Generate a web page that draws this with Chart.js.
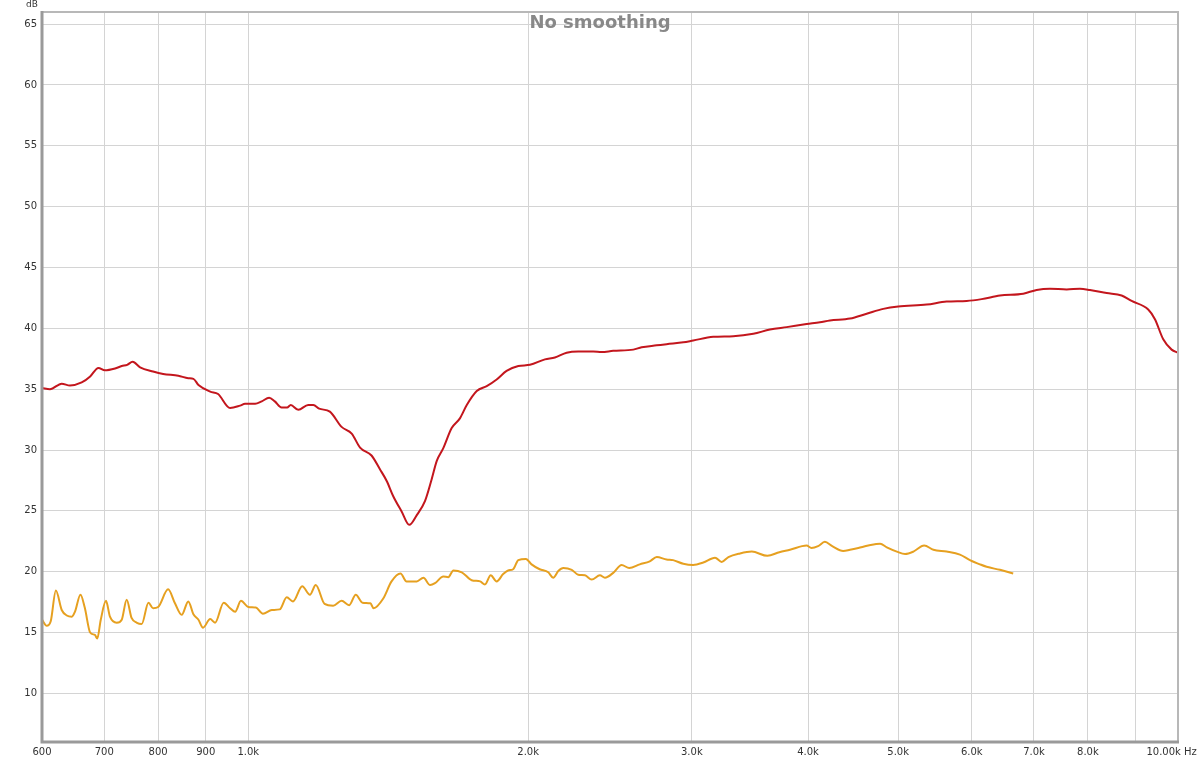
<!DOCTYPE html>
<html>
<head>
<meta charset="utf-8">
<title>No smoothing</title>
<script src="https://cdn.jsdelivr.net/npm/chart.js@4/dist/chart.umd.min.js"></script>
<style>
    html, body { margin: 0; padding: 0; background: #fff; }
    #wrap { width: 1200px; height: 760px; }
</style>
</head>
<body>
<div id="wrap"><canvas id="freqChart" width="1200" height="760"></canvas></div>
<script>
const redFreq = [600, 612, 630, 643, 662, 676, 690, 701, 719, 731, 741, 751, 765, 790, 810, 841, 862, 873, 884, 910,
    928, 956, 980, 992, 1017, 1034, 1053, 1068, 1086, 1101, 1111, 1132, 1160, 1175, 1192, 1224, 1260, 1292, 1319, 1357,
    1386, 1409, 1432, 1462, 1490, 1518, 1549, 1575, 1595, 1621, 1655, 1689, 1718, 1761, 1805, 1850, 1896, 1952, 2009, 2085,
    2137, 2200, 2264, 2350, 2399, 2469, 2595, 2649, 2750, 2818, 2937, 3010, 3163, 3324, 3493, 3640, 3794, 3986, 4120, 4223,
    4438, 4625, 4819, 5001, 5366, 5638, 5925, 6149, 6434, 6816, 7046, 7282, 7590, 7844, 8041, 8380, 8697, 8915, 9289, 9445,
    9641, 9843, 10000];
const redDb = [35.1, 35.0, 35.45, 35.3, 35.55, 36.05, 36.75, 36.55, 36.7, 36.9, 37.0, 37.25, 36.8, 36.45, 36.25, 36.1, 35.9, 35.85, 35.35, 34.8,
    34.6, 33.45, 33.65, 33.8, 33.8, 34.0, 34.3, 34.0, 33.5, 33.5, 33.7, 33.3, 33.7, 33.7, 33.4, 33.15, 31.9, 31.35, 30.2, 29.55,
    28.4, 27.45, 26.2, 24.95, 23.85, 24.65, 25.8, 27.6, 29.1, 30.15, 31.8, 32.6, 33.7, 34.85, 35.25, 35.8, 36.5, 36.9, 37.0, 37.45,
    37.6, 38.0, 38.1, 38.1, 38.05, 38.15, 38.25, 38.45, 38.6, 38.7, 38.85, 39.0, 39.3, 39.35, 39.55, 39.9, 40.1, 40.35, 40.5, 40.65,
    40.8, 41.2, 41.6, 41.8, 41.95, 42.2, 42.25, 42.4, 42.7, 42.85, 43.15, 43.25, 43.2, 43.25, 43.15, 42.9, 42.7, 42.25, 41.55, 40.75,
    39.1, 38.25, 38.0];

const orangeFreq = [600, 607, 613, 621, 630, 638, 646, 651, 660, 667, 676, 684, 688, 694, 703, 710, 722, 731, 740, 749,
    759, 768, 781, 790, 800, 820, 834, 848, 862, 873, 884, 894, 910, 921, 941, 956, 968, 982, 1000, 1019,
    1037, 1060, 1081, 1100, 1117, 1143, 1165, 1182, 1208, 1234, 1260, 1284, 1305, 1327, 1353, 1364, 1397, 1426, 1458, 1480,
    1518, 1543, 1569, 1588, 1621, 1641, 1662, 1697, 1739, 1776, 1797, 1823, 1850, 1880, 1903, 1927, 1952, 1989, 2017, 2058,
    2102, 2128, 2155, 2182, 2228, 2264, 2302, 2341, 2389, 2419, 2469, 2521, 2569, 2637, 2703, 2750, 2818, 2864, 2937, 3010,
    3086, 3177, 3230, 3284, 3380, 3480, 3617, 3726, 3825, 3986, 4034, 4101, 4170, 4247, 4364, 4438, 4531, 4644, 4782, 4862,
    4984, 5087, 5193, 5333, 5457, 5638, 5827, 5973, 6123, 6225, 6434, 6649];
const orangeDb = [16.05, 15.55, 15.9, 18.45, 16.85, 16.4, 16.3, 16.7, 18.1, 17.05, 15.0, 14.8, 14.5, 16.05, 17.6, 16.3, 15.8, 16.05, 17.7, 16.2,
    15.8, 15.7, 17.45, 17.0, 17.1, 18.55, 17.4, 16.45, 17.55, 16.5, 16.05, 15.4, 16.1, 15.8, 17.45, 17.0, 16.7, 17.6, 17.1, 17.05,
    16.55, 16.85, 16.9, 17.9, 17.55, 18.8, 18.1, 18.9, 17.35, 17.2, 17.6, 17.25, 18.1, 17.45, 17.4, 17.0, 17.8, 19.2, 19.85, 19.2,
    19.2, 19.5, 18.9, 19.05, 19.6, 19.55, 20.1, 19.95, 19.3, 19.2, 18.95, 19.7, 19.2, 19.8, 20.1, 20.2, 20.95, 21.05, 20.6, 20.2,
    19.95, 19.5, 20.05, 20.3, 20.15, 19.75, 19.7, 19.35, 19.7, 19.5, 19.9, 20.55, 20.3, 20.6, 20.85, 21.2, 21.0, 20.95, 20.65, 20.55,
    20.75, 21.15, 20.8, 21.2, 21.5, 21.65, 21.3, 21.6, 21.8, 22.15, 21.95, 22.1, 22.45, 22.1, 21.7, 21.8, 21.95, 22.15, 22.3, 22.0,
    21.65, 21.45, 21.65, 22.15, 21.8, 21.65, 21.4, 20.95, 20.6, 20.4, 20.15, 19.85];

const xTicks = [600, 700, 800, 900, 1000, 2000, 3000, 4000, 5000, 6000, 7000, 8000, 9000, 10000];
const xTickLabels = ['600', '700', '800', '900', '1.0k', '2.0k', '3.0k', '4.0k', '5.0k', '6.0k', '7.0k', '8.0k', '',
    '10.00k Hz\u00a0\u00a0\u00a0\u00a0'];
const yTicks = [10, 15, 20, 25, 30, 35, 40, 45, 50, 55, 60, 65];

function toPoints(xs, ys) {
    return xs.map((x, i) => ({ x: x, y: ys[i] }));
}

// frame, title and unit label drawn on top of the plot
const framePlugin = {
    id: 'frame',
    afterDraw(chart) {
        const ctx = chart.ctx;
        const a = chart.chartArea;
        ctx.save();
        ctx.strokeStyle = '#b8b8b8';
        ctx.lineWidth = 2;
        ctx.strokeRect(a.left, a.top, a.right - a.left, a.bottom - a.top);
        ctx.strokeStyle = '#9a9a9a';
        ctx.lineWidth = 3;
        ctx.beginPath();
        ctx.moveTo(a.left, a.top - 1);
        ctx.lineTo(a.left, a.bottom);
        ctx.lineTo(a.right + 1, a.bottom);
        ctx.stroke();

        ctx.fillStyle = '#888';
        ctx.font = 'bold 18px "DejaVu Sans", sans-serif';
        ctx.textAlign = 'center';
        ctx.textBaseline = 'middle';
        ctx.fillText('No smoothing', 600, 23);

        ctx.fillStyle = '#333';
        ctx.font = '9px "DejaVu Sans", sans-serif';
        ctx.textAlign = 'right';
        ctx.fillText('dB', 38, 5);
        ctx.restore();
    }
};

const ctx = document.getElementById('freqChart').getContext('2d');
new Chart(ctx, {
    type: 'line',
    data: {
        datasets: [
            {
                label: 'Red',
                data: toPoints(redFreq, redDb),
                borderColor: '#c3161d',
                borderWidth: 2,
                pointRadius: 0,
                cubicInterpolationMode: 'monotone',
                fill: false
            },
            {
                label: 'Orange',
                data: toPoints(orangeFreq, orangeDb),
                borderColor: '#e6a020',
                borderWidth: 2,
                pointRadius: 0,
                cubicInterpolationMode: 'monotone',
                fill: false
            }
        ]
    },
    options: {
        responsive: false,
        animation: false,
        layout: { padding: { top: 12, right: 22, left: 0, bottom: 0 } },
        plugins: {
            legend: { display: false },
            tooltip: { enabled: false },
            title: { display: false }
        },
        scales: {
            x: {
                type: 'logarithmic',
                min: 600,
                max: 10000,
                afterBuildTicks: function(axis) {
                    axis.ticks = xTicks.map(v => ({ value: v }));
                },
                afterFit: function(axis) {
                    axis.height = 18;
                    axis.paddingLeft = 0;
                    axis.paddingRight = 0;
                },
                grid: { color: '#d4d4d4', lineWidth: 1, drawTicks: false },
                border: { display: false },
                ticks: {
                    padding: 4,
                    maxRotation: 0,
                    autoSkip: false,
                    color: '#333',
                    font: { size: 10, family: '"DejaVu Sans", sans-serif' },
                    callback: function(value) {
                        const i = xTicks.indexOf(value);
                        return i >= 0 ? xTickLabels[i] : '';
                    }
                }
            },
            y: {
                min: 6,
                max: 66,
                afterBuildTicks: function(axis) {
                    axis.ticks = yTicks.map(v => ({ value: v }));
                },
                afterFit: function(axis) {
                    axis.width = 42;
                    axis.paddingTop = 0;
                    axis.paddingBottom = 0;
                },
                grid: { color: '#d4d4d4', lineWidth: 1, drawTicks: false },
                border: { display: false },
                ticks: {
                    padding: 5,
                    color: '#333',
                    font: { size: 10, family: '"DejaVu Sans", sans-serif' }
                }
            }
        }
    },
    plugins: [framePlugin]
});
</script>
</body>
</html>
